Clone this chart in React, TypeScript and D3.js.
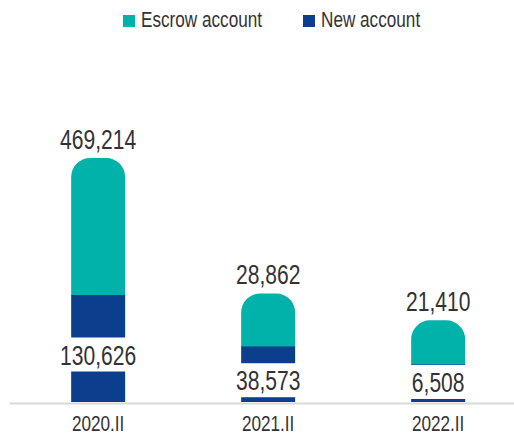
import React, { useEffect, useRef } from 'react';
import * as d3 from 'd3';

const categories = ['2020.II', '2021.II', '2022.II'];
const newAccount = [130626, 38573, 6508];
const escrowAccount = [469214, 28862, 21410];
const seriesNames = ['Escrow account', 'New account'];

const colors = { escrow: '#00b2a9', newAcc: '#0b3f8e' };
const FONT = "'Liberation Sans', Arial, sans-serif";
const SX = 0.78; // squeeze Liberation Sans into a narrow face

const W = 514;
const H = 434;
const BASE = 402;
const LABEL_BAND = 34; // room kept inside the blue part for its number

const fmt = d3.format(',');

// rounded top, flat bottom
const topRounded = (x: number, y: number, w: number, h: number, r: number) => {
  const p = d3.path();
  p.moveTo(x, y + h);
  p.lineTo(x, y + r);
  p.arcTo(x, y, x + r, y, r);
  p.lineTo(x + w - r, y);
  p.arcTo(x + w, y, x + w, y + r, r);
  p.lineTo(x + w, y + h);
  p.closePath();
  return p.toString();
};

const NarrowText = ({ x, y, size, anchor = 'start', children }: any) => (
  <g transform={`translate(${x},${y}) scale(${SX},1)`}>
    <text textAnchor={anchor} fontFamily={FONT} fontSize={size} fill="#333">{children}</text>
  </g>
);

const App = () => {
  const axisRef = useRef<SVGGElement>(null);

  const x = d3.scaleBand()
    .domain(categories)
    .range([9, W])
    .paddingInner(0.6824)
    .paddingOuter(0.3265)
    .align(0.56);

  // not drawn to one scale in the source: blue part is label room + linear, teal is log
  const newScale = d3.scaleLinear().domain([0, d3.max(newAccount)!]).range([0, 73]);
  const escrowScale = d3.scaleLog().domain([d3.min(escrowAccount)!, d3.max(escrowAccount)!]).range([44, 137]);

  useEffect(() => {
    const g = d3.select(axisRef.current);
    g.call(d3.axisBottom(x).tickSize(0).tickPadding(12) as any);
    g.select('.domain').attr('stroke', '#d9d9d9').attr('stroke-width', 2);
    g.selectAll('text')
      .attr('font-family', FONT)
      .attr('font-size', 22)
      .attr('fill', '#333')
      .attr('transform', `scale(${SX},1)`);
  }, []);

  const bw = x.bandwidth();

  return (
    <svg width={W} height={H} style={{ position: 'absolute', left: 0, top: 0 }}>
      {/* legend */}
      <rect x={123} y={15} width={12} height={12} fill={colors.escrow} />
      <NarrowText x={141} y={27} size={22}>{seriesNames[0]}</NarrowText>
      <rect x={303} y={15} width={12} height={12} fill={colors.newAcc} />
      <NarrowText x={321} y={27} size={22}>{seriesNames[1]}</NarrowText>

      {categories.map((c, i) => {
        const x0 = x(c)!;
        const newH = LABEL_BAND + newScale(newAccount[i]);
        const newTop = BASE - newH;
        const escH = escrowScale(escrowAccount[i]);
        const escTop = newTop - escH;
        const mid = (newTop + BASE) / 2;
        const lblY = Math.min(BASE - 10, mid + 16);
        return (
          <g key={c}>
            <path d={topRounded(x0, escTop, bw, escH + 0.5, 19)} fill={colors.escrow} />
            <rect x={x0} y={newTop} width={bw} height={newH} fill={colors.newAcc} />
            <rect x={x0 - 2} y={lblY - 27} width={bw + 4} height={34} fill="#fff" />
            <NarrowText x={x0 + bw / 2} y={lblY} size={27} anchor="middle">
              {fmt(newAccount[i])}
            </NarrowText>
            <NarrowText x={x0 + bw / 2} y={escTop - 9} size={27} anchor="middle">
              {fmt(escrowAccount[i])}
            </NarrowText>
          </g>
        );
      })}

      <g ref={axisRef} transform={`translate(0,${BASE + 1})`} />
    </svg>
  );
};

export default App;
